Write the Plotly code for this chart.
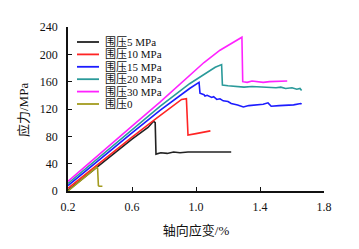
import plotly.graph_objects as go

# ---- data ----
series_names = ["围压5 MPa", "围压10 MPa", "围压15 MPa", "围压20 MPa", "围压30 MPa", "围压0"]
series_colors = ["#222222", "#ff2424", "#1c1cff", "#2a9a9a", "#ff22ff", "#a39b1f"]

x_5 = [0.2, 0.3, 0.4, 0.5, 0.6, 0.7, 0.735, 0.745, 0.75, 0.78, 0.82, 0.86, 0.9, 0.95, 1.0, 1.05, 1.1, 1.15, 1.2, 1.22]
y_5 = [1, 20, 39, 58, 76, 93, 102, 100, 54, 56, 55, 57, 56, 57, 57, 58, 57, 58, 57, 57]

x_10 = [0.2, 0.4, 0.6, 0.75, 0.85, 0.91, 0.94, 0.945, 0.95, 1.0, 1.05, 1.09]
y_10 = [4, 42, 79, 106, 124, 134, 135, 100, 82, 84, 86, 88]

x_15 = [0.2, 0.4, 0.6, 0.775, 0.9, 0.96, 1.019, 1.025, 1.05, 1.056, 1.07, 1.098, 1.11, 1.13, 1.15,
        1.17, 1.2, 1.22, 1.26, 1.296, 1.33, 1.38, 1.42, 1.45, 1.47, 1.52, 1.57, 1.61, 1.654, 1.66]
y_15 = [8, 47, 85, 118, 140, 150, 159, 143, 141, 139, 140, 137, 138, 134, 135,
        132, 131, 128, 126, 123, 125, 125.5, 127, 129, 124, 125, 125.5, 126, 128, 127]

x_20 = [0.2, 0.4, 0.6, 0.775, 0.96, 1.05, 1.12, 1.16, 1.165, 1.2, 1.25, 1.3, 1.35, 1.4, 1.45,
        1.5, 1.53, 1.56, 1.6, 1.63, 1.65, 1.66]
y_20 = [11, 50, 89, 124, 157, 171, 181, 185, 155, 154, 153, 152, 153, 152, 152,
        151, 152, 150, 151, 149, 150, 147]

x_30 = [0.2, 0.4, 0.6, 0.775, 0.96, 1.05, 1.15, 1.22, 1.287, 1.292, 1.32, 1.35, 1.38, 1.42, 1.46, 1.5, 1.54, 1.57]
y_30 = [14, 55, 95, 130, 170, 188, 206, 216, 225, 160, 159, 161, 160, 159, 160, 160, 161, 161]

x_0 = [0.2, 0.3, 0.36, 0.38, 0.385, 0.39, 0.395, 0.415]
y_0 = [0, 19, 31, 35, 33, 8, 7, 7]

x_ticks = [0.2, 0.6, 1.0, 1.4, 1.8]
y_ticks = [0, 40, 80, 120, 160, 200, 240]

xs = [x_5, x_10, x_15, x_20, x_30, x_0]
ys = [y_5, y_10, y_15, y_20, y_30, y_0]

fig = go.Figure()
for name, color, xv, yv in zip(series_names, series_colors, xs, ys):
    fig.add_trace(go.Scatter(x=xv, y=yv, mode="lines", name=name,
                             line=dict(color=color, width=1.6), showlegend=False))

# page has an 8px body margin: compensate so the plot lands where the reference has it
OFF = 8
L, T, W, H = 68 - OFF, 27 - OFF, 256, 164
R, B = 35, 58
font_main = "Liberation Serif, Noto Sans CJK SC"

# custom compact legend (paper coordinates)
row_y = [42, 54.4, 66.8, 79.2, 91.6, 104]
for name, color, py in zip(series_names, series_colors, row_y):
    yp = (27 + H - py) / H
    fig.add_shape(type="line", xref="paper", yref="paper",
                  x0=(77 - 68) / W, x1=(99 - 68) / W, y0=yp, y1=yp,
                  line=dict(color=color, width=1.8))
    fig.add_annotation(xref="paper", yref="paper", x=(103 - 68) / W, y=yp,
                       text=name, showarrow=False, xanchor="left", yanchor="middle",
                       font=dict(size=11, color="#111111", family=font_main))

# y-axis title
fig.add_annotation(xref="paper", yref="paper", x=(23 - 68) / W, y=(191 - 110) / H,
                   text="应力/MPa", textangle=-90, showarrow=False,
                   xanchor="center", yanchor="middle",
                   font=dict(size=13, color="#111111", family=font_main))

fig.update_layout(
    width=L + W + R, height=T + H + B,
    margin=dict(l=L, r=R, t=T, b=B, autoexpand=False),
    paper_bgcolor="white", plot_bgcolor="white",
    font=dict(family=font_main, size=12, color="#111111"),
    xaxis=dict(range=[0.2, 1.8], tickvals=x_ticks, tickformat=".1f",
               showgrid=False, zeroline=False, showline=True, linecolor="#111111", linewidth=1.5,
               ticks="inside", ticklen=4, tickwidth=1, tickcolor="#111111",
               ticklabelstandoff=4,
               title=dict(text="轴向应变/%", font=dict(size=13, family=font_main), standoff=13)),
    yaxis=dict(range=[0, 240], tickvals=y_ticks,
               showgrid=False, zeroline=False, showline=True, linecolor="#111111", linewidth=1.5,
               ticks="inside", ticklen=4, tickwidth=1, tickcolor="#111111",
               ticklabelstandoff=6),
)

fig.write_html("out.html")
